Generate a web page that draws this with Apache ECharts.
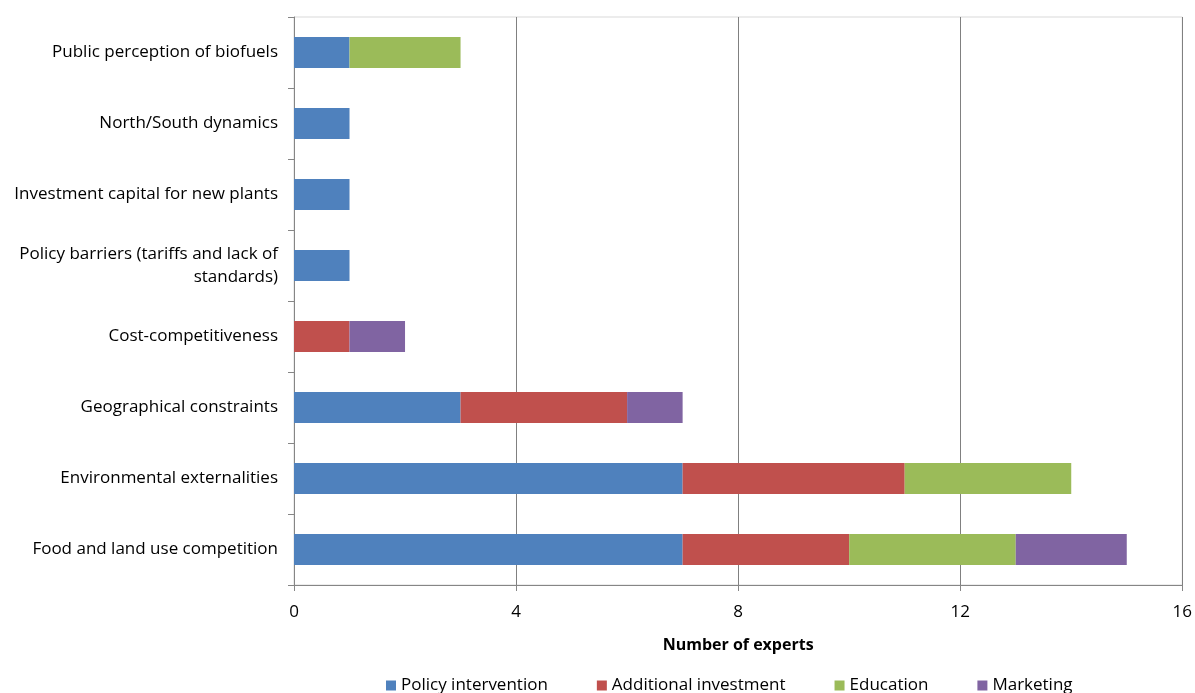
<!DOCTYPE html>
<html><head><meta charset="utf-8">
<script src="https://cdn.jsdelivr.net/npm/echarts@6/dist/echarts.min.js"></script>
<style>html,body{margin:0;padding:0;background:#fff}#c{width:1195px;height:693px}</style>
</head><body><div id="c"></div>
<script>
const categories = ["Food and land use competition","Environmental externalities","Geographical constraints","Cost-competitiveness","Policy barriers (tariffs and lack of standards)","Investment capital for new plants","North/South dynamics","Public perception of biofuels"];
const policyIntervention = [7,7,3,0,1,1,1,1];
const additionalInvestment = [3,4,3,1,0,0,0,0];
const education = [3,3,0,0,0,0,0,2];
const marketing = [2,0,1,1,0,0,0,0];
const xTicks = [0,4,8,12,16];

const F = "'Open Sans', 'Noto Sans', sans-serif";
const chart = echarts.init(document.getElementById('c'), null, {renderer:'canvas'});
function mk(name, data, color){
  return {name, type:'bar', stack:'s', data, barWidth:31, itemStyle:{color}, emphasis:{disabled:true}};
}
chart.setOption({
  animation:false,
  grid:{left:294, right:12, top:17, bottom:108, show:true, borderColor:'#d9d9d9', borderWidth:1},
  legend:{bottom:-6, left:381, itemWidth:10, itemHeight:10, itemGap:49, icon:'rect',
    textStyle:{fontFamily:F, fontSize:17, color:'#000'},
    data:['Policy intervention','Additional investment','Education','Marketing']},
  xAxis:{type:'value', min:xTicks[0], max:xTicks[xTicks.length-1], interval:4,
    name:'Number of experts', nameLocation:'middle', nameGap:52,
    nameTextStyle:{fontFamily:F, fontSize:16, fontWeight:'bold', color:'#000'},
    axisLine:{show:true, lineStyle:{color:'#868686'}},
    axisTick:{show:true, length:6, lineStyle:{color:'#868686'}},
    axisLabel:{fontFamily:F, fontSize:17, color:'#000', margin:19},
    splitLine:{show:true, lineStyle:{color:'#808080'}}},
  yAxis:{type:'category', data:categories,
    axisLine:{show:true, lineStyle:{color:'#868686'}},
    axisTick:{show:true, length:6, lineStyle:{color:'#868686'}},
    axisLabel:{fontFamily:F, fontSize:17, color:'#000', margin:16, lineHeight:23,
      formatter:v=> v==='Policy barriers (tariffs and lack of standards)' ? 'Policy barriers (tariffs and lack of\nstandards)' : v, align:'right'}},
  series:[
    mk('Policy intervention', policyIntervention, '#4F81BD'),
    mk('Additional investment', additionalInvestment, '#C0504D'),
    mk('Education', education, '#9BBB59'),
    mk('Marketing', marketing, '#8064A2')
  ]
});
</script></body></html>
